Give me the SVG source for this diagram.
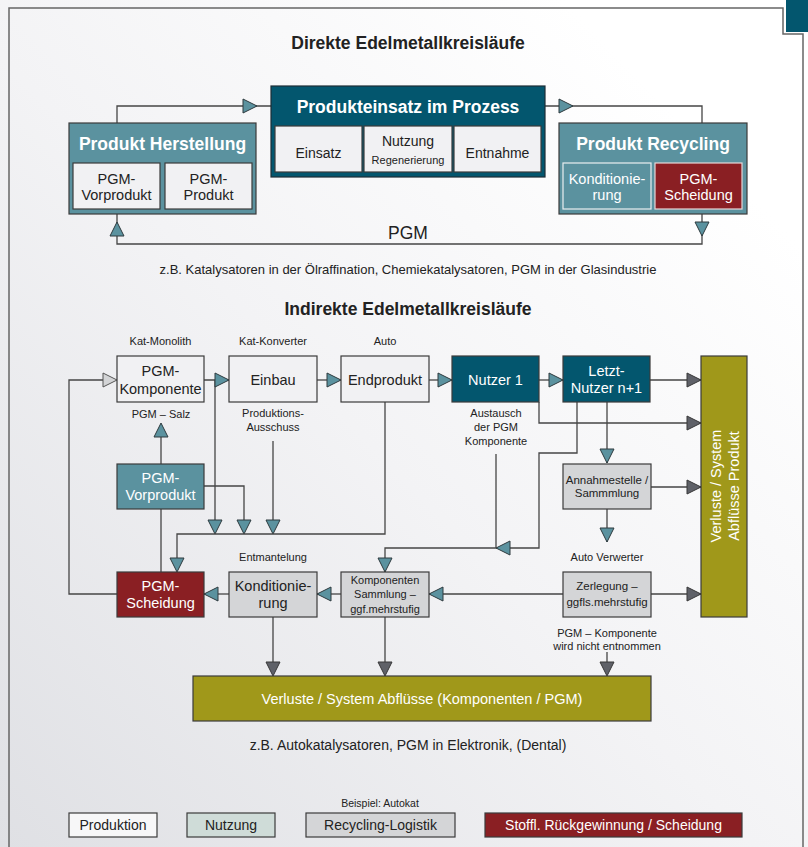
<svg xmlns="http://www.w3.org/2000/svg" xmlns:xlink="http://www.w3.org/1999/xlink" width="808" height="847" viewBox="0 0 808 847">
<defs>
<linearGradient id="bg" x1="0" y1="1" x2="0.85" y2="0.15">
<stop offset="0" stop-color="#dfe0e4"/>
<stop offset="0.55" stop-color="#f3f3f5"/>
<stop offset="1" stop-color="#ffffff"/>
</linearGradient>
<polygon id="ah" points="-14,-7 0,0 -14,7"/>
<style>
.t{font-family:"Liberation Sans",Arial,sans-serif;text-anchor:middle;fill:#222}
.w{fill:#fff}
.b{font-weight:bold}
.ln{fill:none;stroke:#454545;stroke-width:1.3}
.at{fill:#5b929f;stroke:#2e3a3e;stroke-width:1}
.ag{fill:#5f6168;stroke:#383838;stroke-width:1}
.al{fill:#d3d4d6;stroke:#555;stroke-width:1}
.bx{stroke:#3b3b3b;stroke-width:1.2}
.light{fill:#f1f1f3}
.gray{fill:#d4d5d7}
.teal{fill:#5b929f}
.dark{fill:#03566e}
.red{fill:#8a1f23}
.olive{fill:#a0981a}
.f14{font-size:14.5px}
.f11{font-size:11px}
</style>
</defs>
<rect x="0" y="0" width="808" height="847" fill="url(#bg)"/>
<g id="frame">
<path d="M9,847 V8 H783 V34 H803 V847" fill="none" stroke="#666" stroke-width="1.5"/>
<rect x="786" y="0" width="22" height="32" fill="#03566e"/>
</g>

<g id="titles">
<text class="t b" x="408" y="49" font-size="17.5">Direkte Edelmetallkreisläufe</text>
<text class="t" x="408" y="274" font-size="13">z.B. Katalysatoren in der Ölraffination, Chemiekatalysatoren, PGM in der Glasindustrie</text>
<text class="t b" x="408" y="315" font-size="17.5">Indirekte Edelmetallkreisläufe</text>
<text class="t" x="408" y="750" font-size="14">z.B. Autokatalysatoren, PGM in Elektronik, (Dental)</text>
</g>

<g id="connectors">
<!-- top section -->
<path class="ln" d="M117,123 V106 H271"/>
<use href="#ah" class="at" transform="translate(257,106)"/>
<path class="ln" d="M545,106 H702 V123"/>
<use href="#ah" class="at" transform="translate(573,106)"/>
<path class="ln" d="M702,214 V244 H117 V214"/>
<use href="#ah" class="at" transform="translate(702,236) rotate(90)"/>
<use href="#ah" class="at" transform="translate(117,222) rotate(-90)"/>
<text class="t" x="408" y="239" font-size="17.5">PGM</text>

<!-- middle section -->
<path class="ln" d="M117,594 H69 V380 H103"/>
<use href="#ah" class="al" transform="translate(117,380)"/>
<path class="ln" d="M204,380 H229 M215,380 V521"/>
<use href="#ah" class="at" transform="translate(229,380)"/>
<use href="#ah" class="at" transform="translate(215,534) rotate(90)"/>
<path class="ln" d="M317,380 H341"/>
<use href="#ah" class="at" transform="translate(341,380)"/>
<path class="ln" d="M429,380 H452"/>
<use href="#ah" class="at" transform="translate(452,380)"/>
<path class="ln" d="M539,380 H563"/>
<use href="#ah" class="at" transform="translate(563,380)"/>
<path class="ln" d="M650,380 H701"/>
<use href="#ah" class="ag" transform="translate(701,380)"/>
<path class="ln" d="M539,402 V423 H701"/>
<use href="#ah" class="ag" transform="translate(701,423)"/>
<path class="ln" d="M607,402 V463"/>
<use href="#ah" class="at" transform="translate(607,463) rotate(90)"/>
<path class="ln" d="M577,402 V453 H539 V548 H385 V572"/>
<use href="#ah" class="at" transform="translate(496,548) rotate(180)"/>
<use href="#ah" class="at" transform="translate(385,572) rotate(90)"/>
<path class="ln" d="M496,454 V548"/>
<path class="ln" d="M651,487 H701"/>
<use href="#ah" class="ag" transform="translate(701,487)"/>
<path class="ln" d="M607,509 V542"/>
<use href="#ah" class="at" transform="translate(607,542) rotate(90)"/>
<path class="ln" d="M651,594 H701"/>
<use href="#ah" class="ag" transform="translate(701,594)"/>
<path class="ln" d="M563,594 H429"/>
<use href="#ah" class="at" transform="translate(429,594) rotate(180)"/>
<path class="ln" d="M341,594 H317"/>
<use href="#ah" class="at" transform="translate(317,594) rotate(180)"/>
<path class="ln" d="M229,594 H204"/>
<use href="#ah" class="at" transform="translate(204,594) rotate(180)"/>
<path class="ln" d="M161,464 V437"/>
<use href="#ah" class="at" transform="translate(161,423) rotate(-90)"/>
<path class="ln" d="M161,509 V572"/>
<path class="ln" d="M204,486 H244 V521"/>
<use href="#ah" class="at" transform="translate(244,534) rotate(90)"/>
<path class="ln" d="M273,441 V521"/>
<use href="#ah" class="at" transform="translate(273,534) rotate(90)"/>
<path class="ln" d="M385,402 V534 H177 V558"/>
<use href="#ah" class="at" transform="translate(177,572) rotate(90)"/>
<path class="ln" d="M273,617 V663 M385,617 V663 M607,652 V663"/>
<use href="#ah" class="ag" transform="translate(273,676) rotate(90)"/>
<use href="#ah" class="ag" transform="translate(385,676) rotate(90)"/>
<use href="#ah" class="ag" transform="translate(607,676) rotate(90)"/>
</g>

<g id="labels">
<text class="t f11" x="160.5" y="345">Kat-Monolith</text>
<text class="t f11" x="273" y="345">Kat-Konverter</text>
<text class="t f11" x="385" y="345">Auto</text>
<text class="t f11" x="161" y="418">PGM – Salz</text>
<text class="t f11" x="273" y="417">Produktions-</text>
<text class="t f11" x="273" y="431">Ausschuss</text>
<text class="t f11" x="496" y="417">Austausch</text>
<text class="t f11" x="496" y="431">der PGM</text>
<text class="t f11" x="496" y="445">Komponente</text>
<text class="t f11" x="273" y="561">Entmantelung</text>
<text class="t f11" x="607" y="561">Auto Verwerter</text>
<text class="t f11" x="607" y="637">PGM – Komponente</text>
<text class="t f11" x="607" y="650">wird nicht entnommen</text>
</g>

<g id="produkt-herstellung">
<rect class="teal bx" x="69" y="123" width="187" height="91"/>
<text class="t w b" x="162.5" y="150" font-size="17.5">Produkt Herstellung</text>
<rect class="light bx" x="73" y="163" width="87" height="46"/>
<text class="t f14" x="116.5" y="184">PGM-</text>
<text class="t f14" x="116.5" y="200">Vorprodukt</text>
<rect class="light bx" x="165" y="163" width="87" height="46"/>
<text class="t f14" x="208.5" y="184">PGM-</text>
<text class="t f14" x="208.5" y="200">Produkt</text>
</g>

<g id="produkteinsatz">
<rect class="dark" x="271" y="86" width="274" height="91" stroke="#1d2e36" stroke-width="1.2"/>
<text class="t w b" x="408" y="113" font-size="17.5">Produkteinsatz im Prozess</text>
<rect class="light bx" x="275" y="126" width="87" height="46"/>
<text class="t" x="318.5" y="158" font-size="14">Einsatz</text>
<rect class="light bx" x="364" y="126" width="88" height="46"/>
<text class="t" x="408" y="146" font-size="14">Nutzung</text>
<text class="t" x="408" y="164" font-size="11">Regenerierung</text>
<rect class="light bx" x="454" y="126" width="87" height="46"/>
<text class="t" x="497.5" y="158" font-size="14">Entnahme</text>
</g>

<g id="produkt-recycling">
<rect class="teal bx" x="559" y="123" width="188" height="91"/>
<text class="t w b" x="653" y="150" font-size="17.5">Produkt Recycling</text>
<rect class="teal" x="563" y="163" width="88" height="46" stroke="#e9eef0" stroke-width="1.2"/>
<text class="t w f14" x="607" y="184">Konditionie-</text>
<text class="t w f14" x="607" y="200">rung</text>
<rect class="red" x="655" y="163" width="87" height="46" stroke="#e6d8d8" stroke-width="1.2"/>
<text class="t w f14" x="698.5" y="184">PGM-</text>
<text class="t w f14" x="698.5" y="200">Scheidung</text>
</g>

<g id="pgm-komponente">
<rect class="light bx" x="117" y="356" width="87" height="46"/>
<text class="t f14" x="160.5" y="376">PGM-</text>
<text class="t f14" x="160.5" y="394">Komponente</text>
</g>
<g id="einbau">
<rect class="light bx" x="229" y="356" width="88" height="46"/>
<text class="t f14" x="273" y="385">Einbau</text>
</g>
<g id="endprodukt">
<rect class="light bx" x="341" y="356" width="88" height="46"/>
<text class="t f14" x="385" y="385">Endprodukt</text>
</g>
<g id="nutzer1">
<rect class="dark bx" x="452" y="356" width="87" height="46"/>
<text class="t w f14" x="495.5" y="385">Nutzer 1</text>
</g>
<g id="letzt-nutzer">
<rect class="dark bx" x="563" y="356" width="87" height="46"/>
<text class="t w f14" x="606.5" y="376">Letzt-</text>
<text class="t w f14" x="606.5" y="393">Nutzer n+1</text>
</g>
<g id="verluste-produkt">
<rect class="olive bx" x="701" y="356" width="46" height="261"/>
<text class="t w f14" transform="translate(721,486) rotate(-90)">Verluste / System</text>
<text class="t w f14" transform="translate(739,486) rotate(-90)">Abflüsse Produkt</text>
</g>
<g id="pgm-vorprodukt">
<rect class="teal bx" x="117" y="464" width="87" height="45"/>
<text class="t w f14" x="160.5" y="483">PGM-</text>
<text class="t w f14" x="160.5" y="500">Vorprodukt</text>
</g>
<g id="annahmestelle">
<rect class="gray bx" x="563" y="464" width="88" height="45"/>
<text class="t" x="607" y="484" font-size="11.5">Annahmestelle /</text>
<text class="t" x="607" y="497" font-size="11.5">Sammmlung</text>
</g>
<g id="pgm-scheidung">
<rect class="red bx" x="117" y="572" width="87" height="45"/>
<text class="t w f14" x="160.5" y="591">PGM-</text>
<text class="t w f14" x="160.5" y="608">Scheidung</text>
</g>
<g id="konditionierung">
<rect class="gray bx" x="229" y="572" width="88" height="45"/>
<text class="t f14" x="273" y="591">Konditionie-</text>
<text class="t f14" x="273" y="608">rung</text>
</g>
<g id="komponenten-sammlung">
<rect class="gray bx" x="341" y="572" width="88" height="45"/>
<text class="t f11" x="385" y="584">Komponenten</text>
<text class="t f11" x="385" y="598">Sammlung –</text>
<text class="t f11" x="385" y="613">ggf.mehrstufig</text>
</g>
<g id="zerlegung">
<rect class="gray bx" x="563" y="572" width="88" height="45"/>
<text class="t" x="607" y="590" font-size="11.5">Zerlegung –</text>
<text class="t" x="607" y="606" font-size="11.5">ggfls.mehrstufig</text>
</g>
<g id="verluste-komponenten">
<rect class="olive bx" x="193" y="676" width="458" height="45"/>
<text class="t w f14" x="422" y="704">Verluste / System Abflüsse (Komponenten / PGM)</text>
</g>

<g id="legend">
<text class="t" x="380" y="807" font-size="10.5">Beispiel: Autokat</text>
<rect class="bx" fill="#f7f7f8" x="69" y="813" width="88" height="24"/>
<text class="t" x="113" y="830" font-size="14">Produktion</text>
<rect class="bx" fill="#cfdcd8" x="187" y="813" width="88" height="24"/>
<text class="t" x="231" y="830" font-size="14">Nutzung</text>
<rect class="gray bx" x="306" y="813" width="149" height="24"/>
<text class="t" x="380.5" y="830" font-size="14">Recycling-Logistik</text>
<rect class="red bx" x="485" y="813" width="257" height="24"/>
<text class="t w" x="613.5" y="830" font-size="14">Stoffl. Rückgewinnung / Scheidung</text>
</g>
</svg>
